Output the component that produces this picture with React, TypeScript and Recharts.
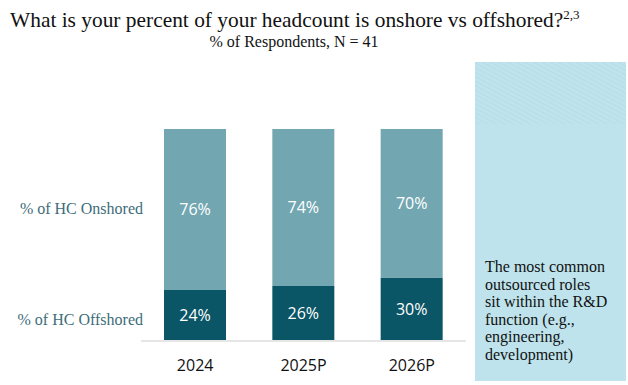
import React from "react";
import { BarChart, Bar, XAxis, YAxis, LabelList } from "recharts";

const years = ["2024", "2025P", "2026P"];
const offshored = [24, 26, 30];
const onshored = [76, 74, 70];
const rowLabels = ["% of HC Onshored", "% of HC Offshored"];
const noteLines = [
  "The most common",
  "outsourced roles",
  "sit within the R&D",
  "function (e.g.,",
  "engineering,",
  "development)",
];

const data = years.map((y, i) => ({ year: y, offshore: offshored[i], onshore: onshored[i] }));

const SERIF = '"Liberation Serif", "DejaVu Serif", serif';
const SANS = '"Open Sans", "Noto Sans", sans-serif';

const Tick = (props: any) => {
  const { x, payload } = props;
  return (
    <text x={x} y={371} textAnchor="middle" fontFamily={SANS} fontSize={16} fill="#111">
      {payload.value}
    </text>
  );
};

export default function App() {
  return (
    <div style={{ position: "absolute", left: 0, top: 0, width: 628, height: 385, background: "#fff" }}>
      <BarChart width={628} height={385} data={data} margin={{ top: 129, right: 162, bottom: 14, left: 141 }}>
        <XAxis
          dataKey="year"
          axisLine={{ stroke: "#e6e6e6", strokeWidth: 2 }}
          tickLine={false}
          tick={<Tick />}
          height={30}
          interval={0}
        />
        <YAxis hide domain={[0, 100]} />
        <Bar dataKey="offshore" stackId="a" fill="#0a5566" barSize={62} isAnimationActive={false}>
          <LabelList dataKey="offshore" position="center" fill="#fff" fontFamily={SANS} fontSize={16} formatter={(v: any) => `${v}%`} />
        </Bar>
        <Bar dataKey="onshore" stackId="a" fill="#72a7b2" barSize={62} isAnimationActive={false}>
          <LabelList dataKey="onshore" position="center" fill="#fff" fontFamily={SANS} fontSize={16} formatter={(v: any) => `${v}%`} />
        </Bar>
      </BarChart>
      <svg width={628} height={385} style={{ position: "absolute", left: 0, top: 0, pointerEvents: "none" }}>
        <defs>
          <pattern id="hatch" width="4" height="4" patternUnits="userSpaceOnUse" patternTransform="rotate(28)">
            <line x1="0" y1="0" x2="4" y2="0" stroke="#aad4df" strokeWidth="0.8" />
          </pattern>
        </defs>
        <text x={10} y={27} fontFamily={SERIF} fontSize={21.4} fill="#111">
          What is your percent of your headcount is onshore vs offshored?
          <tspan fontSize={13} dy={-8}>2,3</tspan>
        </text>
        <text x={294} y={47} textAnchor="middle" fontFamily={SERIF} fontSize={16} fill="#111">
          % of Respondents, N = 41
        </text>
        <text x={143} y={214} textAnchor="end" fontFamily={SERIF} fontSize={16} fill="#3d6d7a">
          {rowLabels[0]}
        </text>
        <text x={143} y={325} textAnchor="end" fontFamily={SERIF} fontSize={16} fill="#3d6d7a">
          {rowLabels[1]}
        </text>
        <rect x={475} y={62} width={151} height={319} fill="#bee3ec" />
        <rect x={475} y={62} width={151} height={62} fill="url(#hatch)" />
        {noteLines.map((l, i) => (
          <text key={i} x={485} y={272 + i * 17.6} fontFamily={SERIF} fontSize={16} fill="#111">
            {l}
          </text>
        ))}
      </svg>
    </div>
  );
}
